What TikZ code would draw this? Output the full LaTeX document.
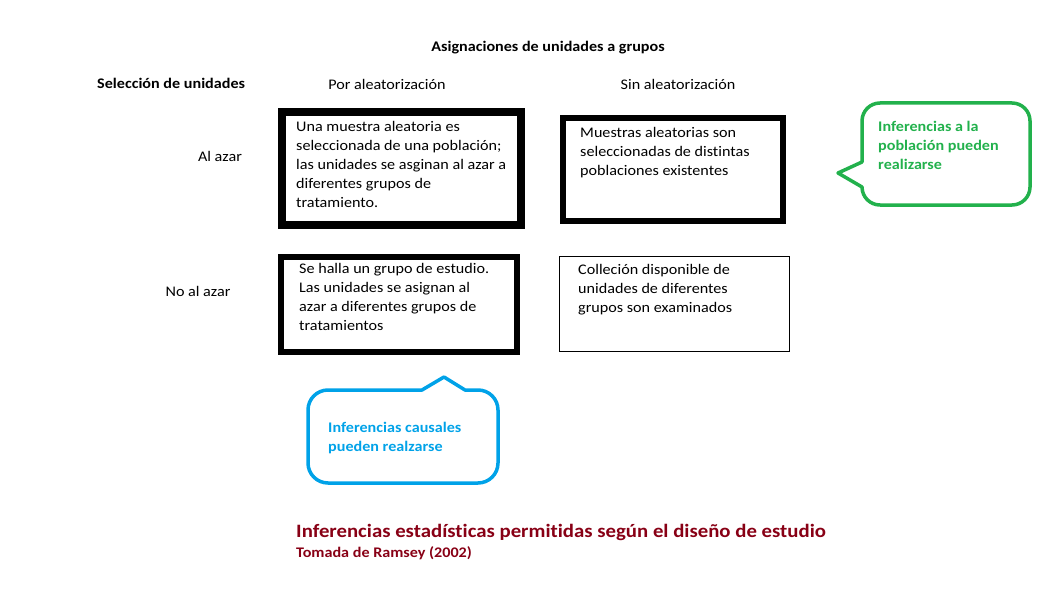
\documentclass[tikz,border=0pt]{standalone}
\usepackage{fontspec}
\setmainfont[FakeStretch=1.1, Ligatures=NoCommon]{Carlito}
\usetikzlibrary{positioning}
\definecolor{callgreen}{RGB}{34,177,76}
\definecolor{callblue}{RGB}{0,162,232}
\definecolor{titlered}{RGB}{136,0,21}
\tikzset{
  heavybox/.style={rectangle, draw=black, line width=8pt, anchor=north west, inner sep=0pt},
  midbox/.style={rectangle, draw=black, line width=6pt, anchor=north west, inner sep=0pt},
  thinbox/.style={rectangle, draw=black, line width=1pt, anchor=north west, inner sep=0pt},
  cell/.style={anchor=north west, align=left, inner sep=0pt,
    font=\fontsize{14.67}{19}\selectfont},
  hdr/.style={anchor=base, inner sep=0pt, font=\fontsize{14.67}{19}\selectfont},
  boldhdr/.style={anchor=base, inner sep=0pt, font=\fontsize{14.67}{19}\selectfont\bfseries},
  greencall/.style={draw=callgreen, line width=3.5pt, line join=round},
  bluecall/.style={draw=callblue, line width=3.5pt, line join=round}
}

\begin{document}
\begin{tikzpicture}[x=1pt, y=-1pt]
  \useasboundingbox (0,0) rectangle (1056,596);
  % Headers
  \node[boldhdr] (asig) at (548,52) {Asignaciones de unidades a grupos};
  \node[boldhdr, anchor=base west] (sel) at (97,89) {Selección de unidades};
  \node[hdr] (por) at (387,90) {Por aleatorización};
  \node[hdr] (sin) at (678,90) {Sin aleatorización};
  \node[hdr] (alazar) at (220,162) {Al azar};
  \node[hdr] (noazar) at (198,296) {No al azar};
  % Cells
  \node[heavybox, minimum width=239, minimum height=113] (b1) at (278,108) {};
  \node[midbox, minimum width=220, minimum height=103] (b2) at (560,115) {};
  \node[midbox, minimum width=236, minimum height=95] (b3) at (278,254) {};
  \node[thinbox, minimum width=230, minimum height=95] (b4) at (559,256) {};
  \node[cell] (t1) at (296,121) {Una muestra aleatoria es\\seleccionada de una población;\\las unidades se asginan al azar a\\diferentes grupos de\\tratamiento.};
  \node[cell] (t2) at (580,127) {Muestras aleatorias son\\seleccionadas de distintas\\poblaciones existentes};
  \node[cell] (t3) at (299,263) {Se halla un grupo de estudio.\\Las unidades se asignan al\\azar a diferentes grupos de\\tratamientos};
  \node[cell] (t4) at (578,264) {Colleción disponible de\\unidades de diferentes\\grupos son examinados};
  % Callouts
  \draw[greencall] (862,162) [rounded corners=18pt] -- (862,103) -- (1030,103) -- (1030,205)
    -- (862,205) [sharp corners] -- (862,187) -- (838,173) -- cycle;
  \node[cell, text=callgreen, font=\fontsize{14.67}{19}\selectfont\bfseries] (inpob) at (878,121)
    {Inferencias a la\\población pueden\\realizarse};
  \draw[bluecall] (465,390) [rounded corners=20pt] -- (498,390) -- (498,483) -- (308,483)
    -- (308,390) [sharp corners] -- (422,390) -- (444,377) -- cycle;
  \node[cell, text=callblue, font=\fontsize{14.67}{19}\selectfont\bfseries] (incaus) at (328,422)
    {Inferencias causales\\pueden realzarse};
  % Caption
  \node[anchor=base west, inner sep=0pt, text=titlered, font=\fontsize{18.9}{22}\selectfont\bfseries]
    (cap) at (296,537) {Inferencias estadísticas permitidas según el diseño de estudio};
  \node[anchor=base west, inner sep=0pt, text=titlered, font=\fontsize{14.67}{16}\selectfont\bfseries]
    (src) at (296,557) {Tomada de Ramsey (2002)};
\end{tikzpicture}
\end{document}
